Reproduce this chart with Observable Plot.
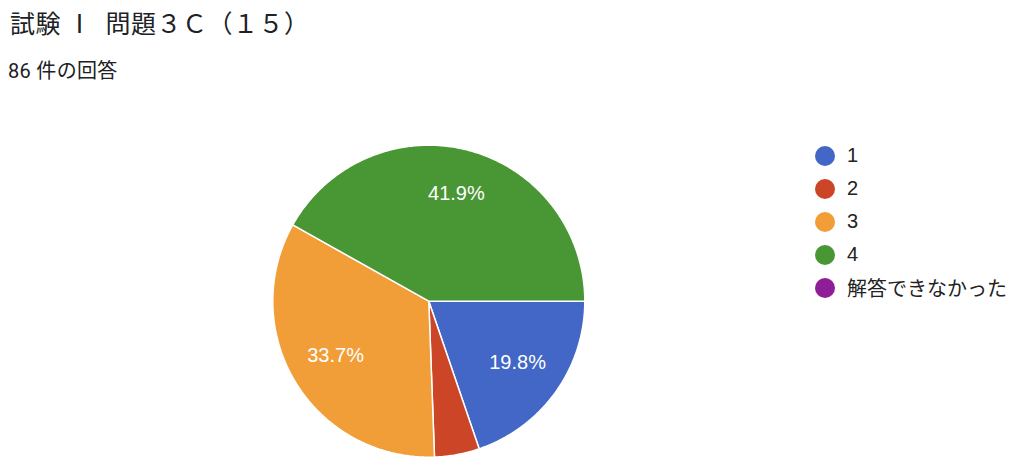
<!DOCTYPE html>
<html>
<head>
<meta charset="utf-8">
<script src="https://cdn.jsdelivr.net/npm/d3@7"></script>
<script src="https://cdn.jsdelivr.net/npm/@observablehq/plot@0.6"></script>
<style>
  html, body { margin: 0; padding: 0; background: #fff; width: 1024px; height: 475px; overflow: hidden; }
  #title { position: absolute; left: 10px; top: 2px; font: 25px "Noto Sans CJK JP", Roboto, sans-serif; color: #202124; white-space: pre; line-height: 40px; letter-spacing: 0.5px; }
  #subtitle { position: absolute; left: 8px; top: 57px; font: 20px Roboto, "Noto Sans CJK JP", sans-serif; color: #202124; white-space: nowrap; line-height: 28px; letter-spacing: 0.3px; }
  #chart { position: absolute; left: 0; top: 0; }
  #legend { position: absolute; left: 815px; top: 139px; font: 20px "Liberation Sans", "Noto Sans CJK JP", sans-serif; color: #222; }
  .item { display: flex; align-items: center; height: 33px; }
  .sw { width: 20px; height: 20px; border-radius: 50%; margin-right: 12px; flex: none; }
</style>
</head>
<body>
<div id="title"></div>
<div id="subtitle"></div>
<div id="chart"></div>
<div id="legend"></div>
<script>
const titleText = "試験 Ⅰ\u2002問題３Ｃ（１５）";
const subtitleText = "86 件の回答";
const categories = ["1", "2", "3", "4", "解答できなかった"];
const counts = [17, 4, 29, 36, 0];
const colors = ["#4267c6", "#cc4527", "#f19e38", "#489634", "#8e1d96"];

document.getElementById("title").textContent = titleText;
document.getElementById("subtitle").textContent = subtitleText;

const total = d3.sum(counts);
const pie = d3.pie().sort(null).value(d => d.value).startAngle(Math.PI / 2).endAngle(Math.PI / 2 + 2 * Math.PI);
const slices = pie(counts.map((v, i) => ({key: categories[i], value: v})).filter(d => d.value > 0));

const pts = [];
for (const s of slices) {
  pts.push({key: s.data.key, x: 0, y: 0});
  const n = Math.max(2, Math.ceil((s.endAngle - s.startAngle) / 0.01));
  for (let k = 0; k <= n; k++) {
    const a = s.startAngle + (s.endAngle - s.startAngle) * k / n;
    pts.push({key: s.data.key, x: Math.sin(a), y: -Math.cos(a)});
  }
}
const labels = slices.filter(s => s.data.value / total >= 0.05).map(s => {
  const a = (s.startAngle + s.endAngle) / 2;
  return {x: 0.7 * Math.sin(a), y: -0.7 * Math.cos(a), text: (s.data.value / total * 100).toFixed(1) + "%"};
});

const chart = Plot.plot({
  width: 1024,
  height: 475,
  margin: 0,
  x: {domain: [-1, 1], range: [272.3, 584.3], axis: null},
  y: {domain: [-1, 1], range: [144.7, 456.7], axis: null},
  color: {domain: categories, range: colors},
  marks: [
    Plot.line(pts, {x: "x", y: "y", z: "key", fill: "key", stroke: "white", strokeWidth: 1.5, curve: "linear-closed"}),
    Plot.text(labels, {x: "x", y: "y", text: "text", fill: "white", fontSize: 20, dy: -2, fontFamily: "Liberation Sans, Arial, sans-serif"})
  ]
});
document.getElementById("chart").appendChild(chart);

const legend = document.getElementById("legend");
categories.forEach((c, i) => {
  const item = document.createElement("div");
  item.className = "item";
  const sw = document.createElement("span");
  sw.className = "sw";
  sw.style.background = colors[i];
  const t = document.createElement("span");
  t.textContent = c;
  item.appendChild(sw);
  item.appendChild(t);
  legend.appendChild(item);
});
</script>
</body>
</html>
